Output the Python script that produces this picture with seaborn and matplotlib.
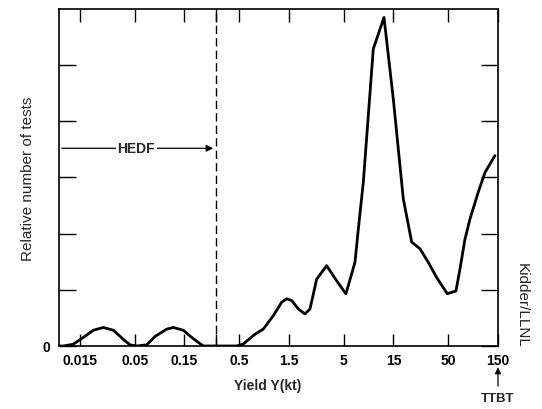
import numpy as np
import pandas as pd
import matplotlib
matplotlib.use("Agg")
import matplotlib.pyplot as plt
from matplotlib.ticker import FixedLocator, NullLocator
import seaborn as sns

# yield (kt) and relative number of tests
yield_kt = [0.00945, 0.0104, 0.0129, 0.0161, 0.0201, 0.0251, 0.0313, 0.0389, 0.0451, 0.0524,
            0.0652, 0.0784, 0.1014, 0.1172, 0.1462, 0.182, 0.227,
            0.474, 0.548, 0.710, 0.851, 1.062, 1.277, 1.426, 1.592, 1.841, 2.134, 2.383,
            2.761, 3.083, 3.44, 4.29, 5.26, 6.42, 6.91, 7.71, 8.61, 9.61, 12.17, 14.93,
            18.62, 22.4, 26.9, 32.3, 38.8, 49.1, 59.4, 64.9, 72.4, 80.9, 97.1, 112.7, 140.3]
rel_tests = [0.0, 0.0, 0.03, 0.15, 0.28, 0.33, 0.28, 0.12, 0.02, 0.0,
             0.02, 0.17, 0.30, 0.33, 0.28, 0.13, 0.0,
             0.0, 0.035, 0.21, 0.30, 0.54, 0.78, 0.84, 0.81, 0.66, 0.57, 0.66,
             1.19, 1.31, 1.43, 1.16, 0.93, 1.49, 2.08, 2.91, 4.10, 5.29, 5.85, 4.40,
             2.62, 1.85, 1.73, 1.49, 1.22, 0.93, 0.98, 1.37, 1.90, 2.26, 2.74, 3.09, 3.39]

xtick_vals = [0.015, 0.05, 0.15, 0.3, 0.5, 1.5, 5, 15, 50, 150]
xtick_labels = ["0.015", "0.05", "0.15", "", "0.5", "1.5", "5", "15", "50", "150"]
ytick_vals = [0, 1, 2, 3, 4, 5]
ytick_labels = ["0", "", "", "", "", ""]

hedf_limit = 0.3
hedf_level = 3.52

df = pd.DataFrame({"yield": yield_kt, "tests": rel_tests})

sns.set_style("ticks")
plt.rcParams["font.family"] = ["Liberation Sans", "DejaVu Sans"]

fig = plt.figure(figsize=(5.42, 4.10), dpi=100)
ax = fig.add_axes([0.1089, 0.1537, 0.8099, 0.8219])

sns.lineplot(data=df, x="yield", y="tests", sort=False, color="black", lw=2, ax=ax)

ax.set_xscale("log")
ax.set_xlim(0.00945, 150)
ax.set_ylim(0, 6)
ax.xaxis.set_major_locator(FixedLocator(xtick_vals))
ax.xaxis.set_minor_locator(NullLocator())
ax.set_xticklabels(xtick_labels)
ax.set_yticks(ytick_vals)
ax.set_yticklabels(ytick_labels)

ax.tick_params(axis="both", direction="in", top=True, right=True, colors="black",
               labelsize=10, width=1)
ax.tick_params(axis="x", length=9, pad=5)
ax.tick_params(axis="y", length=12, pad=6)
for lab in ax.get_xticklabels() + ax.get_yticklabels():
    lab.set_fontweight("bold")
for s in ax.spines.values():
    s.set_color("black")
    s.set_linewidth(1.2)

ax.set_xlabel("Yield Y(kt)", fontsize=10, fontweight="bold")
ax.xaxis.set_label_coords(0.475, -0.095)
ax.set_ylabel("Relative number of tests", fontsize=11)
ax.yaxis.set_label_coords(-0.055, 0.5)

# HEDF boundary and arrow
ax.axvline(hedf_limit, color="black", lw=1, ls=(0, (6, 3)))
ax.annotate("", xy=(hedf_limit, hedf_level), xytext=(0.00945, hedf_level),
            arrowprops=dict(arrowstyle="-|>", color="black", lw=0.9, mutation_scale=10))
ax.text(0.052, hedf_level, "HEDF", ha="center", va="center", fontsize=10,
        fontweight="bold", bbox=dict(facecolor="white", edgecolor="none", pad=1))

# TTBT marker under the 150 kt tick
ax.annotate("TTBT", xy=(150, -0.33), xytext=(150, -0.82), xycoords="data",
            ha="center", va="top", fontsize=9.5, fontweight="bold", annotation_clip=False,
            arrowprops=dict(arrowstyle="-|>", color="black", lw=0.9, mutation_scale=9))

fig.text(0.963, 0.255, "Kidder/LLNL", rotation=-90, ha="center", va="center", fontsize=11)

fig.savefig("out.png", dpi=100)
